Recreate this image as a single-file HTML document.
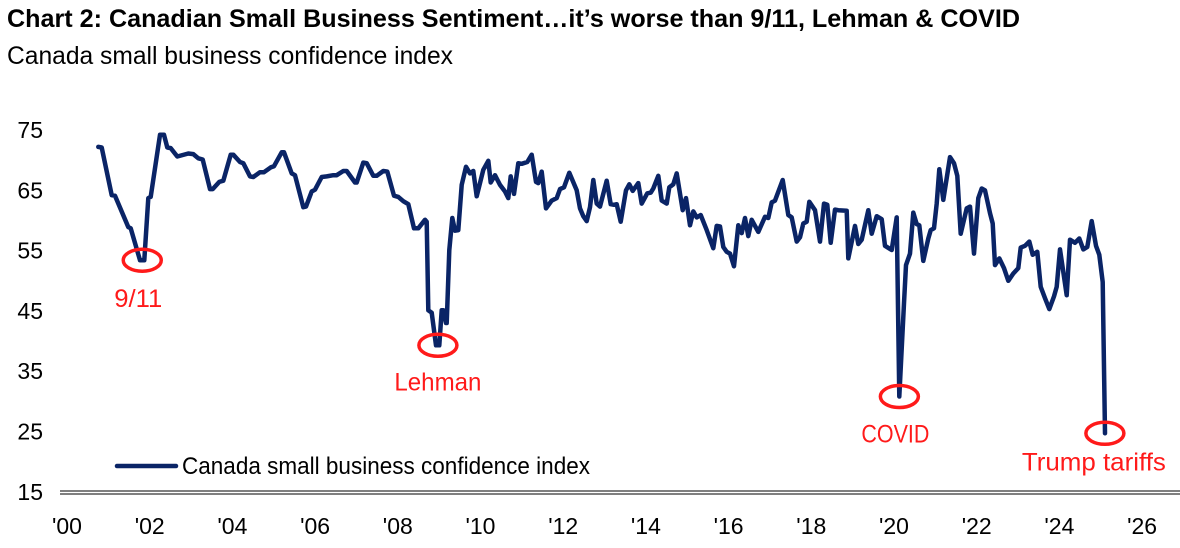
<!DOCTYPE html>
<html><head><meta charset="utf-8">
<style>
html,body{margin:0;padding:0;background:#fff;}
body{width:1180px;height:548px;overflow:hidden;position:relative;font-family:"Liberation Sans",sans-serif;}
svg{position:absolute;left:0;top:0;}
</style></head>
<body>
<svg id="chart" width="1180" height="548">
<text x="7" y="27" font-size="25" font-weight="bold" textLength="1013" lengthAdjust="spacingAndGlyphs" fill="#000">Chart 2: Canadian Small Business Sentiment…it’s worse than 9/11, Lehman &amp; COVID</text>
<text x="7" y="64" font-size="25" textLength="446" lengthAdjust="spacingAndGlyphs" fill="#000">Canada small business confidence index</text>
</svg>
<script>
const years = [2000.757,2000.839,2001.081,2001.161,2001.482,2001.541,2001.765,2001.869,2001.966,2002.024,2002.249,2002.346,2002.426,2002.508,2002.667,2002.933,2003.054,2003.175,2003.282,2003.458,2003.523,2003.683,2003.780,2003.959,2004.022,2004.184,2004.264,2004.426,2004.505,2004.667,2004.764,2004.926,2005.006,2005.192,2005.248,2005.434,2005.514,2005.715,2005.780,2005.918,2005.998,2006.160,2006.281,2006.440,2006.522,2006.682,2006.764,2006.965,2007.006,2007.166,2007.248,2007.407,2007.490,2007.649,2007.746,2007.908,2008.012,2008.133,2008.254,2008.392,2008.496,2008.658,2008.699,2008.738,2008.820,2008.924,2009.004,2009.062,2009.100,2009.166,2009.183,2009.245,2009.318,2009.383,2009.463,2009.545,2009.649,
2009.746,2009.826,2009.907,2010.068,2010.189,2010.247,2010.351,2010.472,2010.593,2010.672,2010.730,2010.810,2010.914,2010.997,2011.132,2011.238,2011.342,2011.398,2011.480,2011.584,2011.722,2011.843,2011.923,2012.019,2012.147,2012.326,2012.406,2012.486,2012.568,2012.648,2012.728,2012.810,2012.890,2013.052,2013.149,2013.228,2013.294,2013.391,2013.519,2013.599,2013.681,2013.817,2013.899,2014.034,2014.116,2014.179,2014.300,2014.382,2014.503,2014.566,2014.662,2014.745,2014.890,2014.970,2015.067,2015.146,2015.229,2015.325,2015.470,2015.630,2015.712,2015.792,2015.872,2015.954,2016.034,2016.131,2016.235,2016.317,2016.397,2016.477,2016.559,2016.718,2016.880,2016.960,2017.042,2017.122,2017.308,2017.444,2017.526,2017.647,2017.727,2017.807,2017.888,2017.951,2018.089,2018.210,2018.307,2018.387,2018.469,2018.573,2018.653,
2018.856,2018.894,2019.056,2019.136,2019.219,2019.378,2019.461,2019.582,2019.703,2019.782,2019.944,2020.065,2020.128,2020.242,2020.290,2020.387,2020.467,2020.549,2020.612,2020.709,2020.830,2020.888,2020.968,2021.033,2021.096,2021.193,2021.354,2021.451,2021.531,2021.613,2021.758,2021.838,2021.935,2022.039,2022.121,2022.201,2022.322,2022.387,2022.443,2022.547,2022.660,2022.764,2022.885,2023.006,2023.064,2023.168,2023.272,2023.354,2023.466,2023.548,2023.652,2023.756,2023.869,2023.935,2024.014,2024.176,2024.256,2024.377,2024.481,2024.578,2024.674,2024.781,2024.885,2024.965,2025.047,2025.103];
const values = [72.2,72.1,64.2,64.1,58.9,58.7,53.4,53.4,63.7,63.9,74.2,74.2,72.1,72.0,70.6,71.1,71.0,70.3,70.1,65.2,65.2,66.4,66.6,70.9,70.9,69.7,69.5,67.3,67.2,68.0,68.0,68.8,69.0,71.3,71.3,67.8,67.5,62.2,62.3,64.8,65.1,67.2,67.3,67.5,67.5,68.2,68.2,66.3,66.3,69.6,69.5,67.4,67.4,68.2,68.1,64.1,63.9,63.2,62.7,58.7,58.7,60.1,59.8,45.1,44.7,39.3,39.3,45.1,45.1,43.0,43.0,55.1,60.4,58.3,58.4,65.9,68.9,
67.8,68.2,64.0,68.4,69.9,66.3,67.5,65.9,64.8,63.7,67.3,64.4,69.5,69.4,69.7,70.9,66.4,66.2,68.1,62.0,63.3,63.7,65.2,65.5,67.9,65.0,62.0,60.7,59.9,62.2,66.7,62.8,62.3,66.6,62.7,62.6,62.7,59.8,65.0,66.0,64.9,66.2,62.8,64.5,64.6,65.3,67.4,63.3,62.8,65.5,66.0,67.8,61.7,63.7,59.2,61.5,60.5,60.9,58.4,55.4,59.1,59.0,55.6,54.8,54.5,52.4,59.2,57.9,60.4,57.4,60.1,58.1,60.6,60.4,63.0,63.3,66.7,60.9,60.5,56.5,57.2,59.5,59.8,63.1,61.7,56.5,62.8,62.6,56.3,61.8,61.7,
61.6,53.7,59.1,56.1,56.8,61.7,57.8,60.7,60.2,55.8,55.1,60.5,30.8,46.3,52.6,54.5,61.3,59.4,59.2,53.3,57.0,58.4,58.7,62.8,68.5,63.4,70.5,69.5,67.4,57.8,62.0,62.3,54.5,63.7,65.3,65.0,61.2,59.5,52.6,53.7,52.1,50.0,51.2,52.1,55.5,55.8,56.5,54.3,54.8,49.0,47.1,45.3,47.4,49.0,55.2,47.6,56.8,56.3,57.0,55.2,55.6,59.9,55.8,54.3,49.8,24.7];
const yTicks = [75,65,55,45,35,25,15];
const xTickYears = [2000,2002,2004,2006,2008,2010,2012,2014,2016,2018,2020,2022,2024,2026];
const xTickLabels = ["'00","'02","'04","'06","'08","'10","'12","'14","'16","'18","'20","'22","'24","'26"];
const annYears = [2001.82,2008.97,2020.13,2025.10];
const annValues = [53.4,39.3,30.8,24.7];
const annLabels = ["9/11","Lehman","COVID","Trump tariffs"];

const NS = "http://www.w3.org/2000/svg";
const svg = document.getElementById('chart');
function xScale(yr){ return 67 + (yr-2000)*41.35; }
function yScale(v){ return 130 + (75-v)*6.03; }
function mk(tag, attrs){ const e=document.createElementNS(NS,tag); for(const k in attrs) e.setAttribute(k,attrs[k]); svg.appendChild(e); return e; }

yTicks.forEach((t)=>{
  const tx = mk('text',{x:43,y:yScale(t)+8,'text-anchor':'end','font-size':23,fill:'#000'});
  tx.textContent = t;
  
  
});
const ax1 = mk('line',{x1:60,x2:1180,y1:491,y2:491,stroke:'#555','stroke-width':1.5});


const ax2 = mk('line',{x1:60,x2:1180,y1:494,y2:494,stroke:'#555','stroke-width':1.5});


xTickYears.forEach((yr,i)=>{
  const tx = mk('text',{x:xScale(yr),y:534,'text-anchor':'middle','font-size':23,fill:'#000'});
  tx.textContent = xTickLabels[i];
  
  
});

let d='';
years.forEach((yr,k)=>{ d += (k?'L':'M') + xScale(yr).toFixed(1)+','+yScale(values[k]).toFixed(1); });
const path = mk('path',{d:d,fill:'none',stroke:'#0a2466','stroke-width':4.5,'stroke-linejoin':'round','stroke-linecap':'round'});



const labOff = [[-4,47],[0,45],[-4,46],[-11,37]];
const labLen = [48,87,68,144];
annYears.forEach((yr,i)=>{
  const cx = xScale(yr), cy = yScale(annValues[i]);
  const el = mk('ellipse',{cx:cx,cy:cy,rx:19,ry:11,fill:'none',stroke:'#ff1a1a','stroke-width':3.5});
  
  
  const tx = mk('text',{x:cx+labOff[i][0],y:cy+labOff[i][1],'text-anchor':'middle','font-size':25,fill:'#ff1a1a',textLength:labLen[i],lengthAdjust:'spacingAndGlyphs'});
  tx.textContent = annLabels[i];
  
  
});

const lg = mk('line',{x1:117,x2:176,y1:466,y2:466,stroke:'#0a2466','stroke-width':4.5,'stroke-linecap':'round'});


const lt = mk('text',{x:182,y:474,'font-size':24,fill:'#000',textLength:408,lengthAdjust:'spacingAndGlyphs'});
lt.textContent = 'Canada small business confidence index';


</script>
</body></html>
